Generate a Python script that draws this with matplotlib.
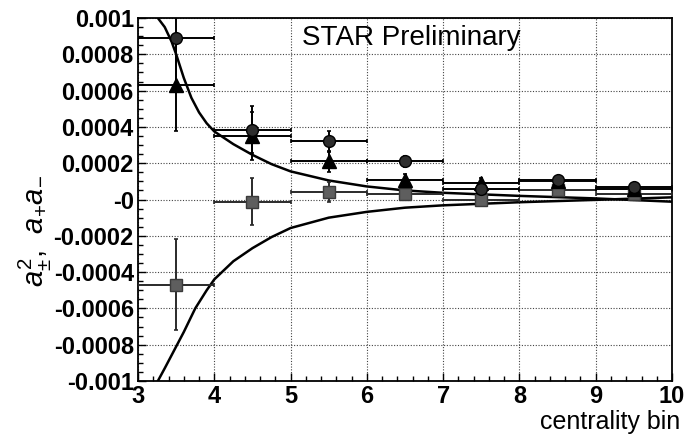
import matplotlib
matplotlib.use("Agg")
import matplotlib.pyplot as plt
from matplotlib.ticker import MultipleLocator

plt.rcParams['font.family'] = ['Liberation Sans', 'DejaVu Sans']
plt.rcParams['mathtext.fontset'] = 'custom'
plt.rcParams['mathtext.it'] = 'Liberation Sans:italic'
plt.rcParams['mathtext.rm'] = 'Liberation Sans'

# centrality bins
bins = [3.5, 4.5, 5.5, 6.5, 7.5, 8.5, 9.5]
bin_half = [0.5] * 7

# circles
circ = [0.00089, 0.000385, 0.00032, 0.00021, 0.00006, 0.00011, 0.00007]
circ_err = [0.00025, 0.00013, 0.00006, 0.00003, 0.00003, 0.00002, 0.00002]
# triangles
tri = [0.00063, 0.00035, 0.00021, 0.00011, 0.00009, 0.0001, 0.00006]
tri_err = [0.00025, 0.00013, 0.00006, 0.00003, 0.00003, 0.00002, 0.00002]
# squares
sq = [-0.00047, -0.000012, 0.00004, 0.00003, 0.0, 0.00005, 0.00003]
sq_err = [0.00025, 0.00013, 0.000055, 0.00003, 0.00002, 0.00002, 0.00002]

# curves
up_x = [3.2, 3.26, 3.35, 3.44, 3.5, 3.6, 3.7, 3.8, 3.9, 4.0, 4.25, 4.5, 4.75,
        5.0, 5.5, 6.0, 6.5, 7.0, 8.0, 9.0, 10.0]
up_y = [0.00103, 0.001, 0.00095, 0.00087, 0.0008, 0.00067, 0.00056, 0.00048,
        0.00042, 0.000375, 0.000305, 0.000246, 0.000195, 0.000155, 0.000105,
        0.000072, 0.00005, 0.000037, 0.00002, 0.000006, -0.000012]
lo_x = [3.2, 3.26, 3.35, 3.5, 3.6, 3.75, 3.9, 4.0, 4.25, 4.5, 4.75, 5.0, 5.5,
        6.0, 6.5, 7.0, 8.0, 9.0, 10.0]
lo_y = [-0.00105, -0.001, -0.00093, -0.00081, -0.00073, -0.0006, -0.0005,
        -0.00044, -0.00034, -0.000268, -0.000207, -0.000157, -0.0001,
        -0.000068, -0.000045, -0.000032, -0.000015, -0.000002, 0.000012]

xticks = [3, 4, 5, 6, 7, 8, 9, 10]
yticks = [0.001, 0.0008, 0.0006, 0.0004, 0.0002, 0.0, -0.0002, -0.0004,
          -0.0006, -0.0008, -0.001]
ytick_labels = ['0.001', '0.0008', '0.0006', '0.0004', '0.0002', '-0',
                '-0.0002', '-0.0004', '-0.0006', '-0.0008', '-0.001']

fig = plt.figure(figsize=(6.87, 4.36), dpi=100)
ax = fig.add_axes([0.2009, 0.1261, 0.7773, 0.8326])

ax.grid(True, which='major', color='#444444', linestyle=(0, (1, 1.5)), linewidth=0.8)
ax.set_axisbelow(True)

ax.plot(up_x, up_y, color='black', lw=1.8, zorder=2)
ax.plot(lo_x, lo_y, color='black', lw=1.8, zorder=2)

eb = dict(linestyle='none', elinewidth=1.4, capsize=1.5, capthick=1.2, zorder=3)
ax.errorbar(bins, sq, xerr=bin_half, yerr=sq_err, fmt='s', ms=8,
            mfc='#5e5e5e', mec='#3a3a3a', ecolor='#2a2a2a', **eb)
ax.errorbar(bins, tri, xerr=bin_half, yerr=tri_err, fmt='^', ms=10,
            mfc='black', mec='black', ecolor='black', **eb)
ax.errorbar(bins, circ, xerr=bin_half, yerr=circ_err, fmt='o', ms=8.5,
            mfc='#2e2e2e', mec='black', ecolor='black', **eb)

ax.set_xlim(3, 10)
ax.set_ylim(-0.001, 0.001)
ax.set_xticks(xticks)
ax.set_xticklabels([str(t) for t in xticks], fontsize=17, fontweight='bold')
ax.set_yticks(yticks)
ax.set_yticklabels(ytick_labels, fontsize=17, fontweight='bold')
ax.xaxis.set_minor_locator(MultipleLocator(0.2))
ax.yaxis.set_minor_locator(MultipleLocator(0.00005))
ax.tick_params(which='major', direction='in', length=6, width=1.0,
               top=False, right=False)
ax.tick_params(which='minor', direction='in', length=3.5, width=1.0,
               top=False, right=False)
ax.tick_params(axis='x', pad=3)
ax.tick_params(axis='y', pad=3)
for s in ax.spines.values():
    s.set_linewidth(1.3)

ax.text(0.3066, 0.9256, 'STAR Preliminary', transform=ax.transAxes,
        fontsize=20, ha='left', va='baseline')

fig.text(0.99, 0.005, 'centrality bin', fontsize=18, ha='right', va='bottom')
fig.text(0.052, 0.47, r'$a^2_{\pm}$,  $a_{+}a_{-}$', fontsize=21,
         rotation=90, ha='center', va='center')

fig.savefig('out.png', dpi=100)
